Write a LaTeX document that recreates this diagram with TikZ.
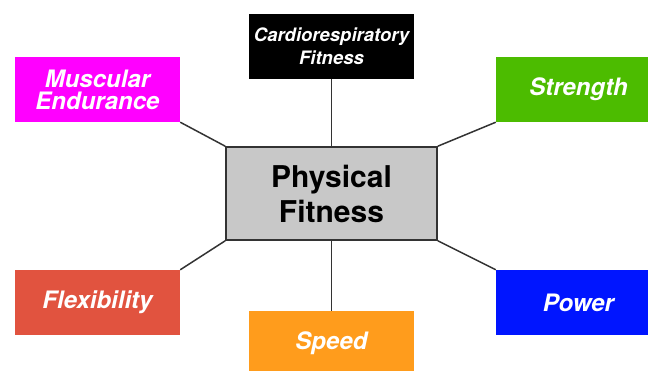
\documentclass[tikz,border=0pt]{standalone}
\usepackage{fontspec}
\setmainfont{TeX Gyre Heros}
\definecolor{boxmagenta}{HTML}{FF00FF}
\definecolor{boxgreen}{HTML}{4CBC00}
\definecolor{boxred}{HTML}{E1533F}
\definecolor{boxorange}{HTML}{FF9C1C}
\definecolor{boxblue}{HTML}{0015FF}
\definecolor{boxgray}{HTML}{C8C8C8}
\definecolor{linegray}{HTML}{333333}
\begin{document}
\begin{tikzpicture}[x=1pt, y=-1pt,
    part/.style={minimum width=165pt, minimum height=65pt, inner sep=0pt, align=center,
      text=white, font=\fontsize{24}{22}\selectfont\bfseries\itshape},
    hub/.style={draw=linegray, line width=1.6pt, fill=boxgray, minimum width=211pt,
      minimum height=93pt, inner sep=0pt, align=center, font=\fontsize{30}{35}\selectfont\bfseries},
    link/.style={linegray, line width=1.5pt}]
      \useasboundingbox (0,0) rectangle (648,370);
      \clip (0,0) rectangle (648,370);
      \node[hub] (phys) at (331.5,193.5) {Physical\\Fitness};
      \node[part, fill=black, font=\fontsize{18.5}{23}\selectfont\bfseries\itshape] (cardio) at (331.5,46) {Cardiorespiratory\\Fitness};
      \node[part, fill=boxmagenta] (mus) at (97.5,89.5) {Muscular\\Endurance};
      \node[part, fill=boxgreen] (str) at (578.5,89.5) {Strength};
      \node[part, fill=boxred] (flex) at (97.5,302.5) {Flexibility};
      \node[part, fill=boxorange] (speed) at (331.5,343.5) {Speed};
      \node[part, fill=boxblue] (pow) at (578.5,302.5) {Power};
      \draw[link] (cardio.south)--(phys.north);
      \draw[link] (mus.south east)--(phys.north west);
      \draw[link] (str.south west)--(phys.north east);
      \draw[link] (flex.north east)--(phys.south west);
      \draw[link] (speed.north)--(phys.south);
      \draw[link] (pow.north west)--(phys.south east);
    \end{tikzpicture}
\end{document}
